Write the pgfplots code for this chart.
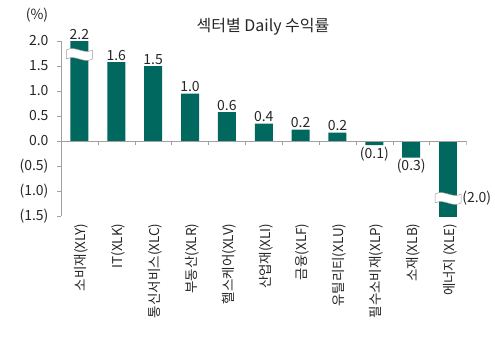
\documentclass[border=0pt]{standalone}
\usepackage{fontspec}
\setmainfont{Noto Sans CJK KR}
\usepackage{pgfplots}
\pgfplotsset{compat=1.18}
\usepackage{pgfplotstable}
\definecolor{barteal}{RGB}{0,104,94}
\definecolor{txt}{RGB}{38,38,38}
\definecolor{axgray}{RGB}{160,160,160}
\newcommand{\lab}{\fontsize{14}{16}\selectfont}
\newcommand{\cat}{\fontsize{13.5}{15}\selectfont}

\pgfplotstableread{
x y lab
0 2.0 2.2
1 1.58 1.6
2 1.50 1.5
3 0.95 1.0
4 0.58 0.6
5 0.35 0.4
6 0.23 0.2
7 0.17 0.2
}\tpos
\pgfplotstableread{
x y lab
8 -0.08 (0.1)
9 -0.33 (0.3)
}\tneg

\begin{document}
\begin{tikzpicture}
\useasboundingbox (-61pt,-122pt) rectangle (434pt,216pt);
\begin{axis}[
  scale only axis,
  width=405.5pt, height=175pt,
  xmin=-0.5, xmax=10.5,
  ymin=-1.5, ymax=2.0,
  axis y line*=left,
  axis x line*=bottom,
  x axis line style={draw=none},
  y axis line style={axgray},
  ytick={-1.5,-1,-0.5,0,0.5,1,1.5,2},
  yticklabels={(1.5),(1.0),(0.5),0.0,0.5,1.0,1.5,2.0},
  ytick style={axgray},
  tick align=outside,
  major tick length=4pt,
  yticklabel style={font=\lab, text=txt, xshift=-5pt},
  xtick={0,...,10},
  xticklabels={소비재(XLY),IT(XLK),통신서비스(XLC),부동산(XLR),헬스케어(XLV),산업재(XLI),금융(XLF),유틸리티(XLU),필수소비재(XLP),소재(XLB),에너지 (XLE)},
  xtick style={draw=none},
  xticklabel style={rotate=90, anchor=east, font=\cat, text=txt, yshift=-2pt},
]
\addplot[ybar, bar width=18pt, bar shift=0pt, fill=barteal, draw=none,
  nodes near coords, point meta=explicit symbolic,
  nodes near coords align={above},
  nodes near coords style={font=\lab, text=txt, inner sep=1.5pt}]
  table[x=x, y=y, meta=lab]{\tpos};
\addplot[ybar, bar width=18pt, bar shift=0pt, fill=barteal, draw=none,
  nodes near coords, point meta=explicit symbolic,
  nodes near coords align={below},
  nodes near coords style={font=\lab, text=txt, inner sep=1.5pt}]
  table[x=x, y=y, meta=lab]{\tneg};
\addplot[ybar, bar width=18pt, bar shift=0pt, fill=barteal, draw=none]
  coordinates {(10,-2.0)};
\draw[axgray] (axis cs:-0.5,0) -- (axis cs:10.5,0);
\pgfplotsinvokeforeach{-0.5,0.5,1.5,2.5,3.5,4.5,5.5,6.5,7.5,8.5,9.5,10.5}{
  \draw[axgray] (axis cs:#1,0) -- ([yshift=-4pt]axis cs:#1,0);
}
\draw[axgray, fill=white, line width=0.5pt, shift={(axis cs:0,1.73)}]
  (-13pt,-4.5pt) .. controls (-4pt,0.5pt) and (4pt,-9.5pt) .. (13pt,-4.5pt)
  -- (13pt,4.5pt) .. controls (4pt,-0.5pt) and (-4pt,9.5pt) .. (-13pt,4.5pt) -- cycle;
\draw[axgray, fill=white, line width=0.5pt, shift={(axis cs:10,-1.15)}]
  (-13pt,-4.5pt) .. controls (-4pt,0.5pt) and (4pt,-9.5pt) .. (13pt,-4.5pt)
  -- (13pt,4.5pt) .. controls (4pt,-0.5pt) and (-4pt,9.5pt) .. (-13pt,4.5pt) -- cycle;
\coordinate (lab10) at (axis cs:10,-1.15);
\end{axis}
\node[anchor=west, font=\lab, text=txt, inner sep=1pt] at ([xshift=13pt]lab10) {(2.0)};
\node[font=\fontsize{16}{18}\selectfont, text=txt] at (202pt,189pt) {섹터별 Daily 수익률};
\node[font=\lab, text=txt] at (-24pt,201pt) {(\%)};
\end{tikzpicture}
\end{document}
